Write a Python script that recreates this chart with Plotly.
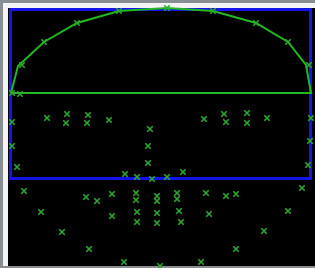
import plotly.graph_objects as go

# Outline (closed polyline) vertices
hull_x = [11, 18, 44, 77, 119, 167, 213, 256, 288, 306, 311, 11]
hull_y = [93, 66, 42, 23, 11, 8, 11, 23, 42, 65, 93, 93]

# Landmark points
pts_x = [12, 20, 22, 44, 77, 119, 167, 213, 256, 288, 309,
         12, 12, 17, 311, 310, 308,
         47, 67, 66, 88, 87, 109, 204, 224, 226, 247, 247, 267,
         150, 148, 148, 125, 137, 152, 167, 183,
         24, 41, 62, 89, 124, 160, 201, 236, 264, 288, 302,
         86, 97, 112, 112, 136, 136, 137, 137, 157, 157, 157, 157,
         177, 177, 179, 181, 206, 226, 236, 209]
pts_y = [93, 94, 65, 42, 23, 11, 8, 11, 23, 42, 65,
         122, 146, 167, 118, 141, 165,
         118, 114, 123, 115, 123, 120, 119, 114, 122, 113, 123, 118,
         129, 146, 163, 174, 177, 179, 177, 172,
         191, 212, 232, 249, 262, 266, 262, 249, 231, 211, 188,
         197, 201, 194, 216, 193, 200, 212, 222, 196, 201, 213, 223,
         193, 199, 211, 222, 193, 196, 194, 214]

# Box corners
box_x = [10.5, 310.5]
box_y = [9.5, 178.5]

W, H = 315, 268

fig = go.Figure()

fig.add_trace(go.Scatter(x=hull_x, y=hull_y, mode="lines",
                         line=dict(color="#22b822", width=2),
                         hoverinfo="skip", showlegend=False))
fig.add_trace(go.Scatter(x=pts_x, y=pts_y, mode="markers",
                         marker=dict(symbol="x-thin", size=5.5,
                                     line=dict(color="#2eaa2e", width=1.6)),
                         hoverinfo="skip", showlegend=False))

shapes = [
    dict(type="rect", xref="x", yref="y", x0=3, y0=3, x1=W + 2, y1=H - 2,
         fillcolor="#f4f4f4", line=dict(width=0), layer="below"),
    dict(type="rect", xref="x", yref="y", x0=8, y0=8, x1=W + 2, y1=H - 2,
         fillcolor="#000000", line=dict(width=0), layer="below"),
    dict(type="rect", xref="x", yref="y", x0=box_x[0], y0=box_y[0],
         x1=box_x[1], y1=box_y[1], line=dict(color="#1414e6", width=3),
         fillcolor="rgba(0,0,0,0)", layer="below"),
]

fig.update_layout(
    width=W, height=H,
    margin=dict(l=0, r=0, t=0, b=0),
    paper_bgcolor="#868d93",
    plot_bgcolor="#868d93",
    shapes=shapes,
    xaxis=dict(range=[0, W], visible=False, fixedrange=True),
    yaxis=dict(range=[H, 0], visible=False, fixedrange=True),
)

fig.write_html(
    "out.html",
    config={"displayModeBar": False},
    post_script="document.body.style.margin='0';document.body.style.overflow='hidden';",
)
